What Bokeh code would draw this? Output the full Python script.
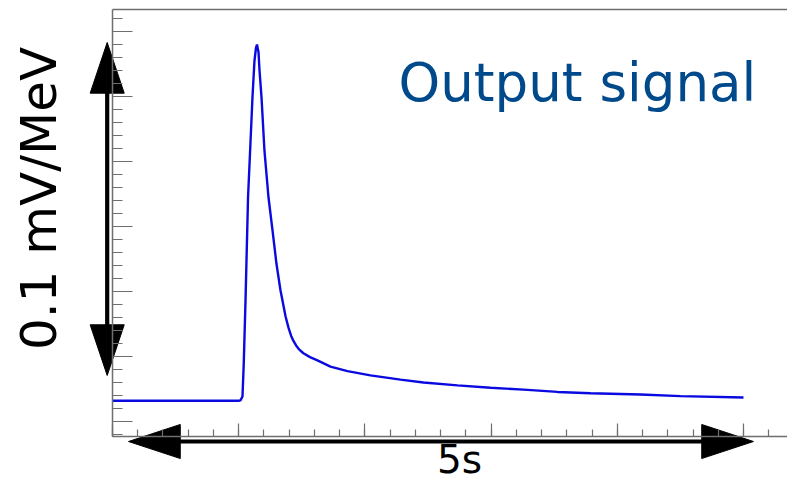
import numpy as np
from bokeh.plotting import figure
from bokeh.models import (LinearAxis, SingleIntervalTicker, FixedTicker, Range1d,
                          Label, CustomJSTickFormatter)
from bokeh.embed import file_html
from bokeh.resources import INLINE

# ---- data (time in s, signal in arbitrary units: 1 unit per major y tick) ----
time_s = [0.0, 0.5, 1.0, 1.014, 1.030, 1.040, 1.054, 1.074, 1.094, 1.109, 1.125,
          1.137, 1.145, 1.157, 1.165, 1.181, 1.204, 1.236, 1.268, 1.299, 1.331,
          1.371, 1.395, 1.415, 1.434, 1.455, 1.478, 1.513, 1.565, 1.624, 1.727,
          1.862, 2.044, 2.282, 2.464, 2.734, 2.995, 3.257, 3.526, 3.788, 4.184,
          4.501, 5.0]
signal = [0.32, 0.32, 0.32, 0.325, 0.385, 0.89, 1.86, 3.45, 4.32, 4.98, 5.55,
          5.75, 5.80, 5.68, 5.40, 4.98, 4.17, 3.45, 2.94, 2.43, 2.02,
          1.62, 1.44, 1.32, 1.24, 1.17, 1.11, 1.05, 0.99, 0.94, 0.845,
          0.775, 0.71, 0.645, 0.60, 0.555, 0.52, 0.49, 0.455, 0.435, 0.415,
          0.39, 0.37]

scale_text = "0.1 mV/MeV"
time_text = "5s"
title_text = "Output signal"

# frame / axes limits (data units)
x_view = [-0.8875, 5.3487]
y_view = [-0.9538, 6.4769]
axis_x0 = 0.0
axis_y_bottom = -0.2308
axis_y_top = 6.3385

# arrow spans (data units)
v_arrow_x = -0.042
v_arrow_span = [0.708, 5.831]
h_arrow_y = -0.3077
h_arrow_span = [0.127, 5.079]

GRAY = "#6e6e6e"
FONT = "DejaVu Sans"

p = figure(width=787, height=483, output_backend="svg", toolbar_location=None,
           x_range=Range1d(*x_view), y_range=Range1d(*y_view),
           x_axis_location=None, y_axis_location=None,
           min_border_left=0, min_border_right=0, min_border_top=0,
           min_border_bottom=0)
p.outline_line_color = None
p.background_fill_color = "white"
p.border_fill_color = "white"
p.grid.visible = False

blank = CustomJSTickFormatter(code="return ''")


def style_axis(ax, tin, mtin):
    ax.formatter = blank
    ax.major_tick_in = tin
    ax.major_tick_out = 0
    ax.minor_tick_in = mtin
    ax.minor_tick_out = 0
    ax.major_label_standoff = 0
    ax.axis_line_color = GRAY
    ax.axis_line_width = 1.5
    ax.major_tick_line_color = GRAY
    ax.minor_tick_line_color = GRAY
    ax.major_tick_line_width = 1.2
    ax.minor_tick_line_width = 1.2


xax = LinearAxis(ticker=SingleIntervalTicker(interval=1, num_minor_ticks=5),
                 fixed_location=axis_y_bottom, bounds=(axis_x0, x_view[1]))
style_axis(xax, 13, 7)
p.add_layout(xax, "below")

yax = LinearAxis(ticker=SingleIntervalTicker(interval=1, num_minor_ticks=5),
                 fixed_location=axis_x0, bounds=(axis_y_bottom, axis_y_top))
style_axis(yax, 20, 10)
p.add_layout(yax, "left")

top = LinearAxis(ticker=FixedTicker(ticks=[]), fixed_location=axis_y_top,
                 bounds=(axis_x0, x_view[1]))
style_axis(top, 0, 0)
p.add_layout(top, "above")

p.line(time_s, signal, line_color="#0a0ae0", line_width=2.4)

# ---- arrows ----
head_len_y = 0.78   # vertical head length (y units)
head_hw_x = 0.135   # vertical head half width (x units)
head_len_x = 0.41   # horizontal head length (x units)
head_hw_y = 0.262   # horizontal head half height (y units)

y0, y1 = v_arrow_span
x0, x1 = h_arrow_span
p.segment(x0=[v_arrow_x, x0 + head_len_x * 0.9],
          y0=[y0 + head_len_y * 0.9, h_arrow_y],
          x1=[v_arrow_x, x1 - head_len_x * 0.9],
          y1=[y1 - head_len_y * 0.9, h_arrow_y],
          line_color="black", line_width=4.2)
p.patches(
    xs=[[v_arrow_x - head_hw_x, v_arrow_x, v_arrow_x + head_hw_x],
        [v_arrow_x - head_hw_x, v_arrow_x, v_arrow_x + head_hw_x],
        [x0 + head_len_x, x0, x0 + head_len_x],
        [x1 - head_len_x, x1, x1 - head_len_x]],
    ys=[[y1 - head_len_y, y1, y1 - head_len_y],
        [y0 + head_len_y, y0, y0 + head_len_y],
        [h_arrow_y - head_hw_y, h_arrow_y, h_arrow_y + head_hw_y],
        [h_arrow_y - head_hw_y, h_arrow_y, h_arrow_y + head_hw_y]],
    fill_color="black", line_color="black", line_width=1)

# ---- texts ----
p.add_layout(Label(x=-0.586, y=3.431, text=scale_text, angle=np.pi / 2,
                   text_align="center", text_baseline="alphabetic",
                   text_font=FONT, text_font_size="50px", text_color="black"))
p.add_layout(Label(x=2.75, y=-0.586, text=time_text,
                   text_align="center", text_baseline="alphabetic",
                   text_font=FONT, text_font_size="39px", text_color="black"))
p.add_layout(Label(x=2.266, y=5.223, text=title_text,
                   text_align="left", text_baseline="alphabetic",
                   text_font=FONT, text_font_size="53px", text_color="#004a8c"))

open("out.html", "w").write(file_html(p, INLINE))
